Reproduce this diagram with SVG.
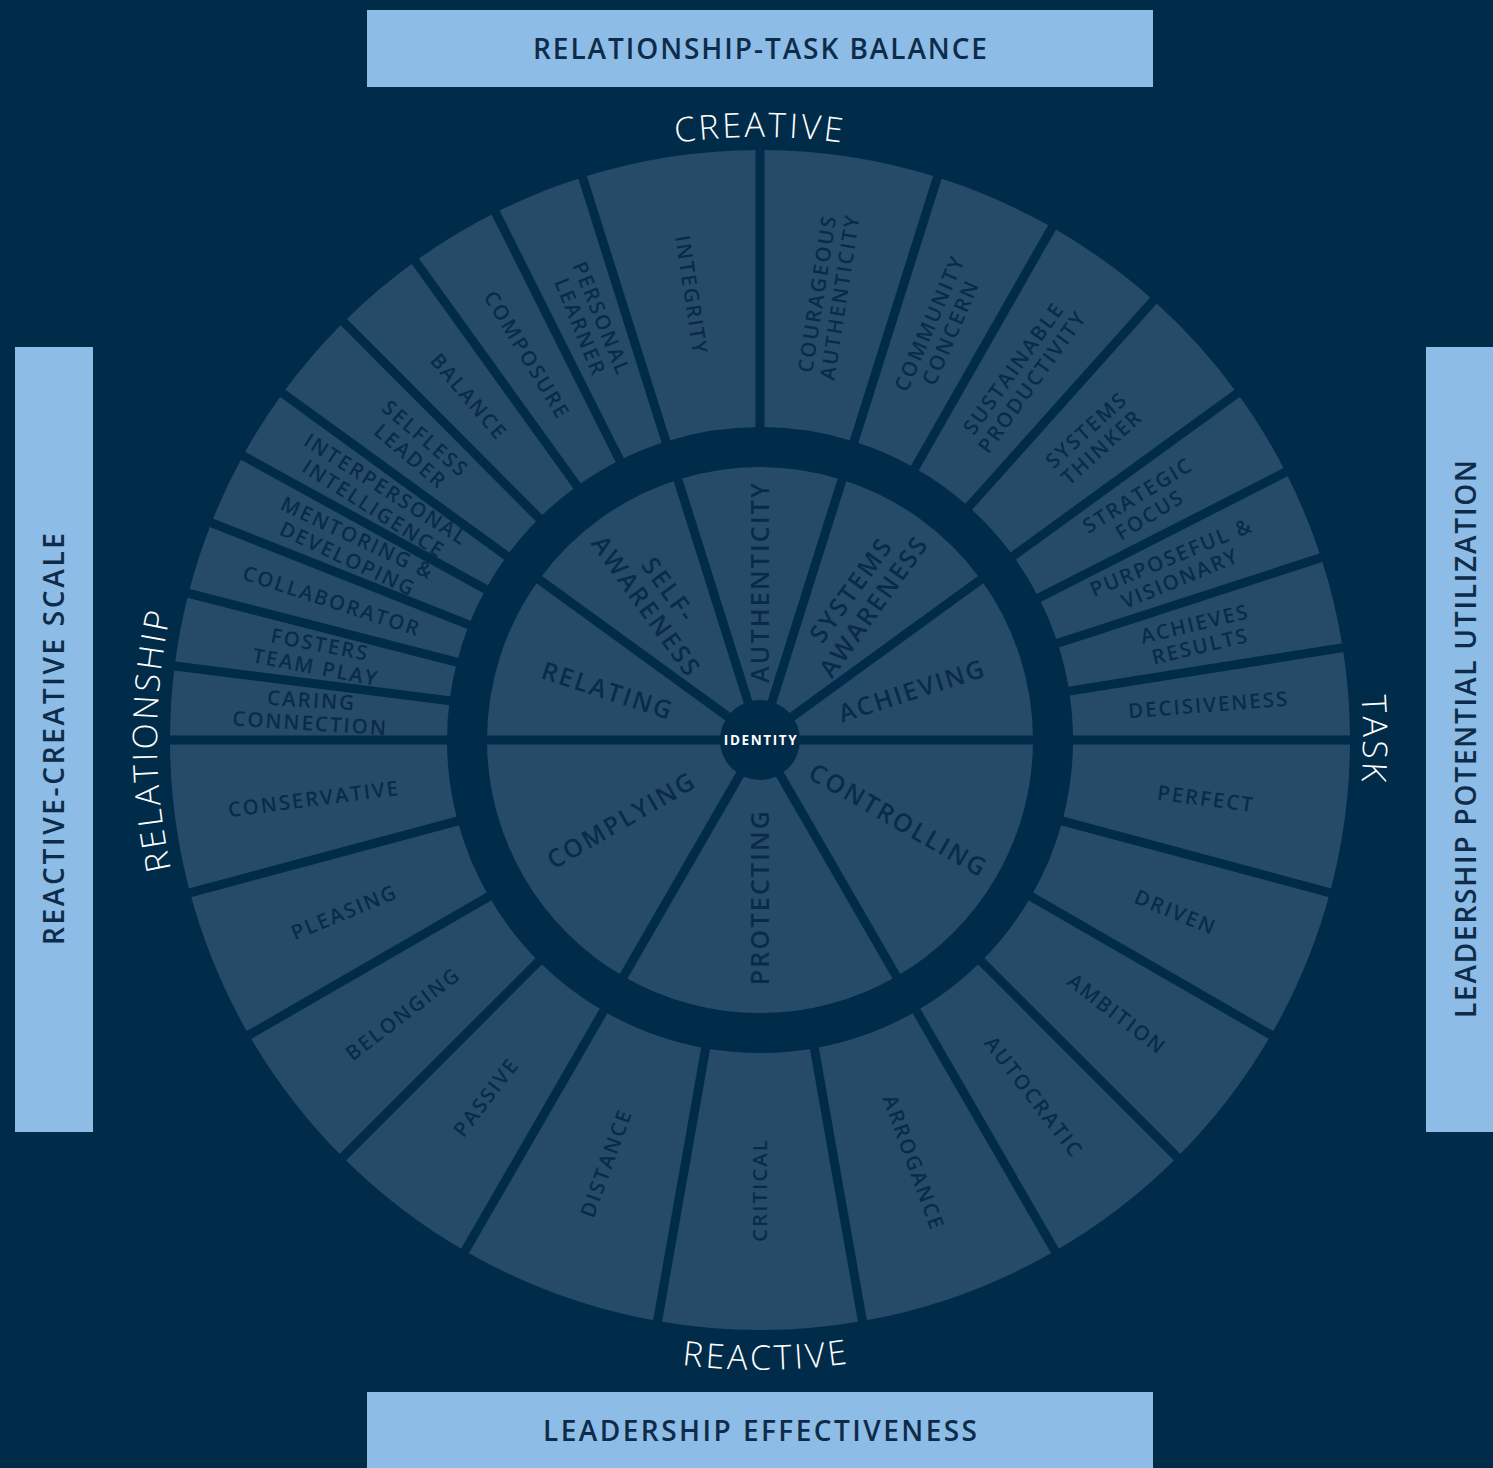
<svg xmlns="http://www.w3.org/2000/svg" width="1493" height="1468" viewBox="0 0 1493 1468">
<style>
.seg{fill:#254b69}
.dv line{stroke:#002b49;stroke-width:9}
.l{font-family:"Open Sans","Noto Sans",sans-serif;font-size:20.5px;font-weight:600;fill:#0a2b48;letter-spacing:2px;text-anchor:middle}
.il{font-family:"Open Sans","Noto Sans",sans-serif;font-size:25px;font-weight:600;fill:#0a2b48;letter-spacing:2.2px;text-anchor:middle}
.box{fill:#8dbde6}
.bt{font-family:"Open Sans","Noto Sans",sans-serif;font-size:28px;font-weight:600;fill:#0e2c4a;text-anchor:middle}
.big{font-family:"Open Sans","Noto Sans",sans-serif;font-size:34px;font-weight:300;fill:#ffffff;letter-spacing:3px;text-anchor:middle}
</style>
<defs>
<path id="cw" d="M 760,1343 A 603 603 0 1 1 760,137 A 603 603 0 1 1 760,1343"/>
<path id="bot" d="M 130,740 A 630 630 0 0 0 1390,740"/>
</defs>
<rect x="0" y="0" width="1493" height="1468" fill="#002b49"/>

<g id="outer-ring">
<g id="seg-caring-connection"><path class="seg" d="M 170,740 A 590 590 0 0 1 174.66,666.06 L 449.47,700.77 A 313 313 0 0 0 447,740 Z"/><text class="l" transform="translate(310.9 711.7) rotate(3.6)"><tspan x="0" y="-4.2">CARING</tspan><tspan x="0" y="18.8">CONNECTION</tspan></text></g>
<g id="seg-fosters-team-play"><path class="seg" d="M 174.66,666.06 A 590 590 0 0 1 188.54,593.27 L 456.83,662.16 A 313 313 0 0 0 449.47,700.77 Z"/><text class="l" transform="translate(318 655.7) rotate(10.8)"><tspan x="0" y="-4.2">FOSTERS</tspan><tspan x="0" y="18.8">TEAM PLAY</tspan></text></g>
<g id="seg-collaborator"><path class="seg" d="M 188.54,593.27 A 590 590 0 0 1 211.43,522.81 L 468.98,624.78 A 313 313 0 0 0 456.83,662.16 Z"/><text class="l" transform="translate(332 600.9) rotate(18)" y="7.3">COLLABORATOR</text></g>
<g id="seg-mentoring-developing"><path class="seg" d="M 211.43,522.81 A 590 590 0 0 1 242.98,455.77 L 485.71,589.21 A 313 313 0 0 0 468.98,624.78 Z"/><text class="l" transform="translate(352.8 548.4) rotate(25.2)"><tspan x="0" y="-4.2">MENTORING &amp;</tspan><tspan x="0" y="18.8">DEVELOPING</tspan></text></g>
<g id="seg-interpersonal-intelligence"><path class="seg" d="M 242.98,455.77 A 590 590 0 0 1 282.68,393.2 L 506.78,556.02 A 313 313 0 0 0 485.71,589.21 Z"/><text class="l" transform="translate(380 498.9) rotate(32.4)"><tspan x="0" y="-4.2">INTERPERSONAL</tspan><tspan x="0" y="18.8">INTELLIGENCE</tspan></text></g>
<g id="seg-selfless-leader"><path class="seg" d="M 282.68,393.2 A 590 590 0 0 1 343.72,321.9 L 539.16,518.19 A 313 313 0 0 0 506.78,556.02 Z"/><text class="l" transform="translate(418.1 447.4) rotate(40.56)"><tspan x="0" y="-4.2">SELFLESS</tspan><tspan x="0" y="18.8">LEADER</tspan></text></g>
<g id="seg-balance"><path class="seg" d="M 343.72,321.9 A 590 590 0 0 1 415.29,261.17 L 577.13,485.98 A 313 313 0 0 0 539.16,518.19 Z"/><text class="l" transform="translate(468.9 396.8) rotate(49.69)" y="7.3">BALANCE</text></g>
<g id="seg-composure"><path class="seg" d="M 415.29,261.17 A 590 590 0 0 1 495.6,212.56 L 619.74,460.19 A 313 313 0 0 0 577.13,485.98 Z"/><text class="l" transform="translate(527 355) rotate(58.81)" y="7.3">COMPOSURE</text></g>
<g id="seg-personal-learner"><path class="seg" d="M 495.6,212.56 A 590 590 0 0 1 582.58,177.31 L 665.88,441.49 A 313 313 0 0 0 619.74,460.19 Z"/><text class="l" transform="translate(591 322.9) rotate(67.94)"><tspan x="0" y="-4.2">PERSONAL</tspan><tspan x="0" y="18.8">LEARNER</tspan></text></g>
<g id="seg-integrity"><path class="seg" d="M 582.58,177.31 A 590 590 0 0 1 760,150 L 760,427 A 313 313 0 0 0 665.88,441.49 Z"/><text class="l" transform="translate(691.5 295.2) rotate(81.25)" y="7.3">INTEGRITY</text></g>
<g id="seg-courageous-authenticity"><path class="seg" d="M 760,150 A 590 590 0 0 1 937.42,177.31 L 854.12,441.49 A 313 313 0 0 0 760,427 Z"/><text class="l" transform="translate(828.5 295.2) rotate(-81.25)"><tspan x="0" y="-4.2">COURAGEOUS</tspan><tspan x="0" y="18.8">AUTHENTICITY</tspan></text></g>
<g id="seg-community-concern"><path class="seg" d="M 937.42,177.31 A 590 590 0 0 1 1052.02,227.32 L 914.92,468.02 A 313 313 0 0 0 854.12,441.49 Z"/><text class="l" transform="translate(940 327.6) rotate(-66.42)"><tspan x="0" y="-4.2">COMMUNITY</tspan><tspan x="0" y="18.8">CONCERN</tspan></text></g>
<g id="seg-sustainable-productivity"><path class="seg" d="M 1052.02,227.32 A 590 590 0 0 1 1153.51,300.4 L 968.76,506.79 A 313 313 0 0 0 914.92,468.02 Z"/><text class="l" transform="translate(1022.9 374.8) rotate(-54.25)"><tspan x="0" y="-4.2">SUSTAINABLE</tspan><tspan x="0" y="18.8">PRODUCTIVITY</tspan></text></g>
<g id="seg-systems-thinker"><path class="seg" d="M 1153.51,300.4 A 590 590 0 0 1 1237.32,393.2 L 1013.22,556.02 A 313 313 0 0 0 968.76,506.79 Z"/><text class="l" transform="translate(1094 438.4) rotate(-42.08)"><tspan x="0" y="-4.2">SYSTEMS</tspan><tspan x="0" y="18.8">THINKER</tspan></text></g>
<g id="seg-strategic-focus"><path class="seg" d="M 1237.32,393.2 A 590 590 0 0 1 1285.7,472.15 L 1038.89,597.9 A 313 313 0 0 0 1013.22,556.02 Z"/><text class="l" transform="translate(1143.7 504.9) rotate(-31.5)"><tspan x="0" y="-4.2">STRATEGIC</tspan><tspan x="0" y="18.8">FOCUS</tspan></text></g>
<g id="seg-purposeful-visionary"><path class="seg" d="M 1285.7,472.15 A 590 590 0 0 1 1321.13,557.68 L 1057.68,643.28 A 313 313 0 0 0 1038.89,597.9 Z"/><text class="l" transform="translate(1175.7 567.8) rotate(-22.5)"><tspan x="0" y="-4.2">PURPOSEFUL &amp;</tspan><tspan x="0" y="18.8">VISIONARY</tspan></text></g>
<g id="seg-achieves-results"><path class="seg" d="M 1321.13,557.68 A 590 590 0 0 1 1342.74,647.71 L 1069.15,691.04 A 313 313 0 0 0 1057.68,643.28 Z"/><text class="l" transform="translate(1197.6 634.9) rotate(-13.5)"><tspan x="0" y="-4.2">ACHIEVES</tspan><tspan x="0" y="18.8">RESULTS</tspan></text></g>
<g id="seg-decisiveness"><path class="seg" d="M 1342.74,647.71 A 590 590 0 0 1 1350,740 L 1073,740 A 313 313 0 0 0 1069.15,691.04 Z"/><text class="l" transform="translate(1208.6 704.7) rotate(-4.5)" y="7.3">DECISIVENESS</text></g>

<g id="seg-conservative"><path class="seg" d="M 190.1,892.7 A 590 590 0 0 1 170,740 L 447,740 A 313 313 0 0 0 457.66,821.01 Z"/><text class="l" transform="translate(313.9 798.7) rotate(-7.5)" y="7.3">CONSERVATIVE</text></g>
<g id="seg-pleasing"><path class="seg" d="M 249.04,1035 A 590 590 0 0 1 190.1,892.7 L 457.66,821.01 A 313 313 0 0 0 488.93,896.5 Z"/><text class="l" transform="translate(344.3 912.2) rotate(-22.5)" y="7.3">PLEASING</text></g>
<g id="seg-belonging"><path class="seg" d="M 342.81,1157.19 A 590 590 0 0 1 249.04,1035 L 488.93,896.5 A 313 313 0 0 0 538.68,961.32 Z"/><text class="l" transform="translate(403 1013.9) rotate(-37.5)" y="7.3">BELONGING</text></g>
<g id="seg-passive"><path class="seg" d="M 465,1250.96 A 590 590 0 0 1 342.81,1157.19 L 538.68,961.32 A 313 313 0 0 0 603.5,1011.07 Z"/><text class="l" transform="translate(486.1 1097) rotate(-52.5)" y="7.3">PASSIVE</text></g>
<g id="seg-distance"><path class="seg" d="M 657.55,1321.04 A 590 590 0 0 1 465,1250.96 L 603.5,1011.07 A 313 313 0 0 0 705.65,1048.25 Z"/><text class="l" transform="translate(606.1 1162.9) rotate(-70)" y="7.3">DISTANCE</text></g>
<g id="seg-critical"><path class="seg" d="M 862.45,1321.04 A 590 590 0 0 1 657.55,1321.04 L 705.65,1048.25 A 313 313 0 0 0 814.35,1048.25 Z"/><text class="l" transform="translate(760 1190) rotate(-90)" y="7.3">CRITICAL</text></g>
<g id="seg-arrogance"><path class="seg" d="M 1055,1250.96 A 590 590 0 0 1 862.45,1321.04 L 814.35,1048.25 A 313 313 0 0 0 916.5,1011.07 Z"/><text class="l" transform="translate(913.9 1162.9) rotate(70)" y="7.3">ARROGANCE</text></g>
<g id="seg-autocratic"><path class="seg" d="M 1177.19,1157.19 A 590 590 0 0 1 1055,1250.96 L 916.5,1011.07 A 313 313 0 0 0 981.32,961.32 Z"/><text class="l" transform="translate(1033.9 1097) rotate(52.5)" y="7.3">AUTOCRATIC</text></g>
<g id="seg-ambition"><path class="seg" d="M 1270.96,1035 A 590 590 0 0 1 1177.19,1157.19 L 981.32,961.32 A 313 313 0 0 0 1031.07,896.5 Z"/><text class="l" transform="translate(1117 1013.9) rotate(37.5)" y="7.3">AMBITION</text></g>
<g id="seg-driven"><path class="seg" d="M 1329.9,892.7 A 590 590 0 0 1 1270.96,1035 L 1031.07,896.5 A 313 313 0 0 0 1062.34,821.01 Z"/><text class="l" transform="translate(1175.7 912.2) rotate(22.5)" y="7.3">DRIVEN</text></g>
<g id="seg-perfect"><path class="seg" d="M 1350,740 A 590 590 0 0 1 1329.9,892.7 L 1062.34,821.01 A 313 313 0 0 0 1073,740 Z"/><text class="l" transform="translate(1206.1 798.7) rotate(7.5)" y="7.3">PERFECT</text></g>
</g>

<g id="inner-ring">
<g id="dim-relating"><path class="seg" d="M 760,740 L 487,740 A 273 273 0 0 1 539.14,579.53 Z"/><text class="il" transform="translate(607.8 690.6) rotate(18)" y="9">RELATING</text></g>
<g id="dim-self-awareness"><path class="seg" d="M 760,740 L 539.14,579.53 A 273 273 0 0 1 677.91,479.63 Z"/><text class="il" transform="translate(657.8 598) rotate(54.25)"><tspan x="0" y="-5">SELF-</tspan><tspan x="0" y="23">AWARENESS</tspan></text></g>
<g id="dim-authenticity"><path class="seg" d="M 760,740 L 677.91,479.63 A 273 273 0 0 1 842.09,479.63 Z"/><text class="il" transform="translate(760 582) rotate(-90)" y="9">AUTHENTICITY</text></g>
<g id="dim-systems-awareness"><path class="seg" d="M 760,740 L 842.09,479.63 A 273 273 0 0 1 980.86,579.53 Z"/><text class="il" transform="translate(862.2 598) rotate(-54.25)"><tspan x="0" y="-5">SYSTEMS</tspan><tspan x="0" y="23">AWARENESS</tspan></text></g>
<g id="dim-achieving"><path class="seg" d="M 760,740 L 980.86,579.53 A 273 273 0 0 1 1033,740 Z"/><text class="il" transform="translate(912.2 690.6) rotate(-18)" y="9">ACHIEVING</text></g>
<g id="dim-complying"><path class="seg" d="M 760,740 L 623.5,976.43 A 273 273 0 0 1 487,740 Z"/><text class="il" transform="translate(621.4 820) rotate(-30)" y="9">COMPLYING</text></g>
<g id="dim-protecting"><path class="seg" d="M 760,740 L 896.5,976.43 A 273 273 0 0 1 623.5,976.43 Z"/><text class="il" transform="translate(760 897) rotate(-90)" y="9">PROTECTING</text></g>
<g id="dim-controlling"><path class="seg" d="M 760,740 L 1033,740 A 273 273 0 0 1 896.5,976.43 Z"/><text class="il" transform="translate(898.6 820) rotate(30)" y="9">CONTROLLING</text></g>
</g>

<g id="dividers" class="dv" transform="translate(760 740)">
<line x1="-600" y1="0" x2="600" y2="0"/>
<line x1="0" y1="0" x2="600" y2="0" transform="rotate(-144)"/>
<line x1="0" y1="0" x2="600" y2="0" transform="rotate(-107.5)"/>
<line x1="0" y1="0" x2="600" y2="0" transform="rotate(-72.5)"/>
<line x1="0" y1="0" x2="600" y2="0" transform="rotate(-36)"/>
<line x1="0" y1="0" x2="600" y2="0" transform="rotate(-240)"/>
<line x1="0" y1="0" x2="600" y2="0" transform="rotate(-300)"/>
<line x1="300" y1="0" x2="600" y2="0" transform="rotate(-172.8)"/>
<line x1="300" y1="0" x2="600" y2="0" transform="rotate(-165.6)"/>
<line x1="300" y1="0" x2="600" y2="0" transform="rotate(-158.4)"/>
<line x1="300" y1="0" x2="600" y2="0" transform="rotate(-151.2)"/>
<line x1="300" y1="0" x2="600" y2="0" transform="rotate(-134.875)"/>
<line x1="300" y1="0" x2="600" y2="0" transform="rotate(-125.75)"/>
<line x1="300" y1="0" x2="600" y2="0" transform="rotate(-116.625)"/>
<line x1="300" y1="0" x2="600" y2="0" transform="rotate(-90)"/>
<line x1="300" y1="0" x2="600" y2="0" transform="rotate(-60.333)"/>
<line x1="300" y1="0" x2="600" y2="0" transform="rotate(-48.167)"/>
<line x1="300" y1="0" x2="600" y2="0" transform="rotate(-27)"/>
<line x1="300" y1="0" x2="600" y2="0" transform="rotate(-18)"/>
<line x1="300" y1="0" x2="600" y2="0" transform="rotate(-9)"/>
<line x1="300" y1="0" x2="600" y2="0" transform="rotate(-195)"/>
<line x1="300" y1="0" x2="600" y2="0" transform="rotate(-210)"/>
<line x1="300" y1="0" x2="600" y2="0" transform="rotate(-225)"/>
<line x1="300" y1="0" x2="600" y2="0" transform="rotate(-260)"/>
<line x1="300" y1="0" x2="600" y2="0" transform="rotate(-280)"/>
<line x1="300" y1="0" x2="600" y2="0" transform="rotate(-315)"/>
<line x1="300" y1="0" x2="600" y2="0" transform="rotate(-330)"/>
<line x1="300" y1="0" x2="600" y2="0" transform="rotate(-345)"/>
</g>

<g id="identity">
<circle cx="760" cy="740" r="40" fill="#002b49"/>
<text x="761" y="744.5" font-family="'Open Sans','Noto Sans',sans-serif" font-size="13.5" font-weight="700" fill="#ffffff" letter-spacing="1.6" text-anchor="middle">IDENTITY</text>
</g>

<g id="axis-labels">
<text class="big"><textPath href="#cw" startOffset="50%">CREATIVE</textPath></text>
<text class="big"><textPath href="#cw" startOffset="25%">RELATIONSHIP</textPath></text>
<text class="big"><textPath href="#cw" startOffset="75%">TASK</textPath></text>
<text class="big"><textPath href="#bot" startOffset="995.6">REACTIVE</textPath></text>
</g>

<g id="box-top"><rect class="box" x="367" y="10" width="786" height="77"/><text class="bt" x="760" y="58.5" textLength="454">RELATIONSHIP-TASK BALANCE</text></g>
<g id="box-bottom"><rect class="box" x="367" y="1392" width="786" height="80"/><text class="bt" x="760" y="1441" textLength="434">LEADERSHIP EFFECTIVENESS</text></g>
<g id="box-left"><rect class="box" x="15" y="347" width="78" height="785"/><text class="bt" transform="translate(54 739) rotate(-90)" y="10" textLength="412">REACTIVE-CREATIVE SCALE</text></g>
<g id="box-right"><rect class="box" x="1426" y="347" width="80" height="785"/><text class="bt" transform="translate(1466 739) rotate(-90)" y="10" textLength="558">LEADERSHIP POTENTIAL UTILIZATION</text></g>
</svg>
